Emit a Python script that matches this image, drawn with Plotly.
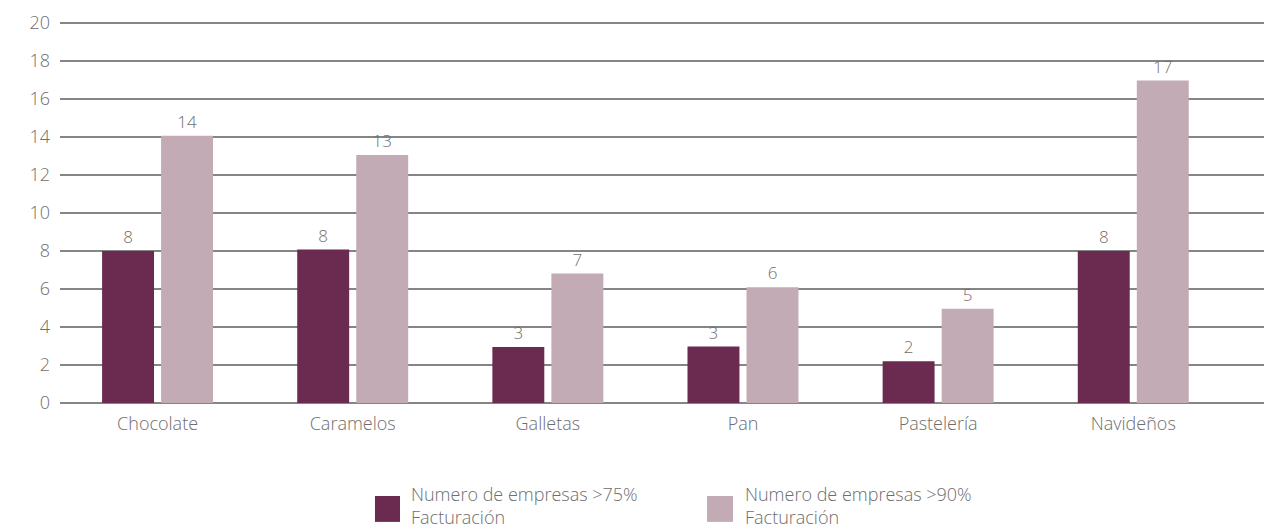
import plotly.graph_objects as go

categories = ["Chocolate", "Caramelos", "Galletas", "Pan", "Pastelería", "Navideños"]
series_names = ["Numero de empresas >75%<br>Facturación", "Numero de empresas >90%<br>Facturación"]
values_75 = [8.0, 8.07, 2.95, 2.97, 2.19, 8.0]
values_90 = [14.05, 13.04, 6.81, 6.09, 4.96, 16.96]
y_ticks = [0, 2, 4, 6, 8, 10, 12, 14, 16, 18, 20]

colors = ["#6B2B50", "#C3ABB5"]
text_color = "#6E6E6E"
font_family = "'Open Sans', Roboto, 'Liberation Sans', Arial, sans-serif"
fsize = 18

fig = go.Figure()
for name, vals, col in zip(series_names, [values_75, values_90], colors):
    fig.add_trace(go.Bar(
        x=categories, y=vals, name=name,
        marker=dict(color=col, line=dict(width=0)),
        texttemplate="%{y:.0f}", textposition="outside",
        textfont=dict(size=17, color=text_color, family=font_family, weight=300),
        cliponaxis=False, showlegend=False,
    ))

fig.update_layout(
    width=1264, height=531,
    margin=dict(l=60, r=0, t=17, b=128, autoexpand=False),
    paper_bgcolor="white", plot_bgcolor="white",
    barmode="group", bargap=0.395, bargroupgap=0.12,
    font=dict(family=font_family, size=fsize, color=text_color, weight=300),
    xaxis=dict(
        type="category", range=[-0.5, 5.67],
        showgrid=False, showline=False, ticks="",
        ticklabelstandoff=8,
        tickfont=dict(size=fsize, color=text_color, weight=300),
    ),
    yaxis=dict(
        range=[0, 20.3], tickvals=y_ticks,
        showgrid=True, gridcolor="#858585", gridwidth=2,
        zeroline=True, zerolinecolor="#858585", zerolinewidth=2,
        showline=False, ticks="", ticklabelstandoff=9,
        tickfont=dict(size=fsize, color=text_color, weight=300),
    ),
)

# legend drawn as large squares with two-line labels
legend_sq = [(0.2616, 0.2824), (0.5374, 0.5590)]
legend_tx = [0.2899, 0.5673]
for name, col, (sx0, sx1), tx in zip(series_names, colors, legend_sq, legend_tx):
    fig.add_shape(type="rect", xref="paper", yref="paper",
                  x0=sx0, x1=sx1, y0=-0.308, y1=-0.241,
                  fillcolor=col, line=dict(width=0))
    fig.add_annotation(xref="paper", yref="paper", x=tx, y=-0.266,
                       xanchor="left", yanchor="middle", align="left",
                       text=name, showarrow=False,
                       font=dict(size=fsize, color=text_color, family=font_family, weight=300))

fig.write_html(
    "out.html", config={"displayModeBar": False},
    post_script=(
        "document.documentElement.style.margin='0';"
        "document.documentElement.style.overflow='hidden';"
        "document.body.style.margin='0';"
        "document.body.style.overflow='hidden';"
    ),
)
